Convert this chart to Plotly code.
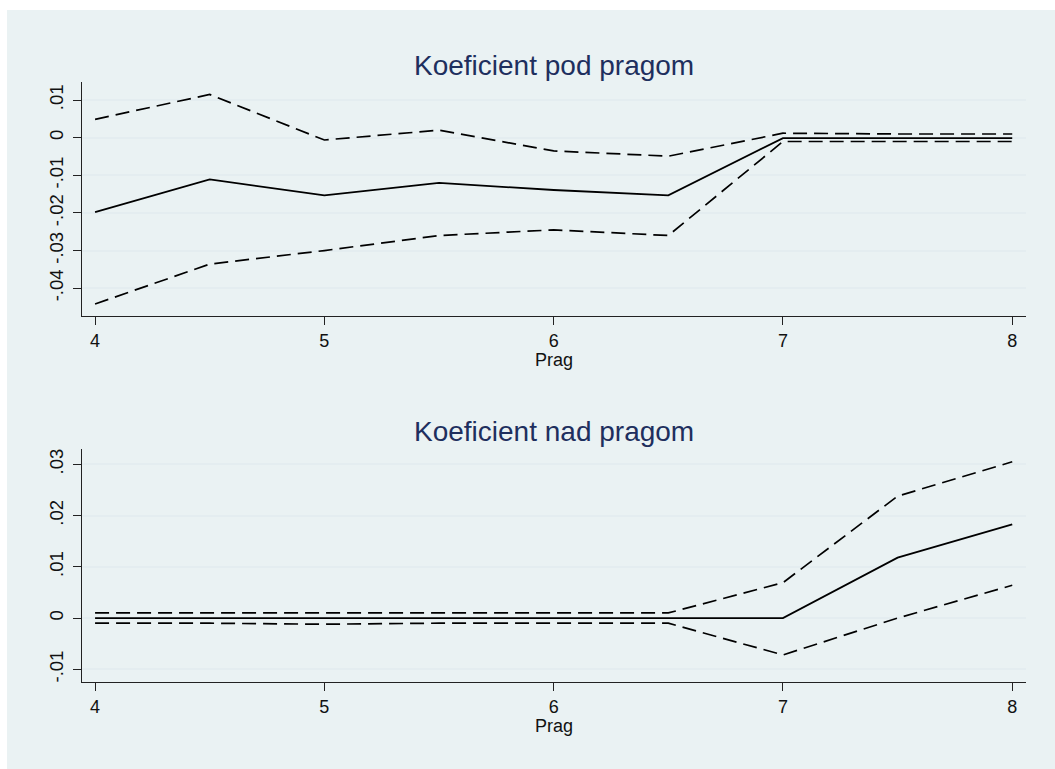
import plotly.graph_objects as go

W, H = 1055, 769

prag = [4, 4.5, 5, 5.5, 6, 6.5, 7, 7.5, 8]

pod_coef = [-0.0198, -0.0111, -0.0153, -0.0120, -0.0139, -0.0153, -0.0001, -0.0001, -0.0001]
pod_upper = [0.0049, 0.0115, -0.0006, 0.0020, -0.0035, -0.0049, 0.0012, 0.0010, 0.0010]
pod_lower = [-0.0442, -0.0336, -0.0300, -0.0260, -0.0245, -0.0260, -0.0010, -0.0010, -0.0010]

nad_coef = [0.0, 0.0, 0.0, 0.0, 0.0, 0.0, 0.0, 0.0118, 0.0183]
nad_upper = [0.0010, 0.0010, 0.0009, 0.0010, 0.0010, 0.0010, 0.0069, 0.0238, 0.0305]
nad_lower = [-0.0010, -0.0010, -0.0012, -0.0010, -0.0010, -0.0010, -0.0072, 0.0000, 0.0064]

pod_yticks = [-0.04, -0.03, -0.02, -0.01, 0, 0.01]
pod_ylabels = ["-.04", "-.03", "-.02", "-.01", "0", ".01"]
nad_yticks = [-0.01, 0, 0.01, 0.02, 0.03]
nad_ylabels = ["-.01", "0", ".01", ".02", ".03"]
xticks = [4, 5, 6, 7, 8]

BG = "#EAF2F3"
GRID = "#E4EDF0"
TITLE_C = "#1E2F5E"
FONT = "Liberation Sans, Arial, sans-serif"

fig = go.Figure()

def add_lines(xa, ya, coef, up, lo):
    fig.add_trace(go.Scatter(x=prag, y=up, mode="lines", xaxis=xa, yaxis=ya,
                             line=dict(color="black", width=1.7, dash="14px,7px"), showlegend=False))
    fig.add_trace(go.Scatter(x=prag, y=lo, mode="lines", xaxis=xa, yaxis=ya,
                             line=dict(color="black", width=1.7, dash="14px,7px"), showlegend=False))
    fig.add_trace(go.Scatter(x=prag, y=coef, mode="lines", xaxis=xa, yaxis=ya,
                             line=dict(color="black", width=1.8), showlegend=False))

add_lines("x", "y", pod_coef, pod_upper, pod_lower)
add_lines("x2", "y2", nad_coef, nad_upper, nad_lower)

xl, xr = 82 / W, 1026 / W
d1 = [1 - 316 / H, 1 - 81.7 / H]
d2 = [1 - 682 / H, 1 - 449 / H]

xcommon = dict(range=[3.943, 8.06], tickvals=xticks, ticktext=[str(v) for v in xticks],
               showgrid=False, zeroline=False, showline=True, linecolor="#222", linewidth=1.2,
               ticks="outside", ticklen=8, tickcolor="#222", tickwidth=1.2,
               tickfont=dict(family=FONT, size=18, color="#111"), domain=[xl, xr], automargin=False)
ycommon = dict(showgrid=True, gridcolor=GRID, gridwidth=1.5, zeroline=False, showline=True,
               linecolor="#222", linewidth=1.2, ticks="outside", ticklen=8, tickcolor="#222",
               tickwidth=1.2, tickangle=-90, tickfont=dict(family=FONT, size=18.5, color="#111"),
               ticklabelstandoff=3, automargin=False)

fig.update_layout(
    width=W, height=H,
    margin=dict(l=0, r=0, t=0, b=0),
    paper_bgcolor="white",
    plot_bgcolor="white",
    xaxis=dict(**xcommon, anchor="y"),
    yaxis=dict(**ycommon, domain=d1, anchor="x", range=[-0.0474, 0.0149],
               tickvals=pod_yticks, ticktext=pod_ylabels),
    xaxis2=dict(**xcommon, anchor="y2"),
    yaxis2=dict(**ycommon, domain=d2, anchor="x2", range=[-0.01248, 0.033],
                tickvals=nad_yticks, ticktext=nad_ylabels),
    shapes=[dict(type="rect", xref="paper", yref="paper", x0=7 / W, x1=1.0, y0=0, y1=1 - 10 / H,
                 fillcolor=BG, line=dict(width=0), layer="below")],
    annotations=[
        dict(text="Koeficient pod pragom", x=(xl + xr) / 2, y=1 - 66 / H, xref="paper", yref="paper",
             showarrow=False, font=dict(family=FONT, size=28, color=TITLE_C), xanchor="center", yanchor="middle"),
        dict(text="Koeficient nad pragom", x=(xl + xr) / 2, y=1 - 431 / H, xref="paper", yref="paper",
             showarrow=False, font=dict(family=FONT, size=28, color=TITLE_C), xanchor="center", yanchor="middle"),
        dict(text="Prag", x=(xl + xr) / 2, y=1 - 360 / H, xref="paper", yref="paper",
             showarrow=False, font=dict(family=FONT, size=18, color="#111"), xanchor="center", yanchor="middle"),
        dict(text="Prag", x=(xl + xr) / 2, y=1 - 726 / H, xref="paper", yref="paper",
             showarrow=False, font=dict(family=FONT, size=18, color="#111"), xanchor="center", yanchor="middle"),
    ],
)

fig.write_html("out.html")
